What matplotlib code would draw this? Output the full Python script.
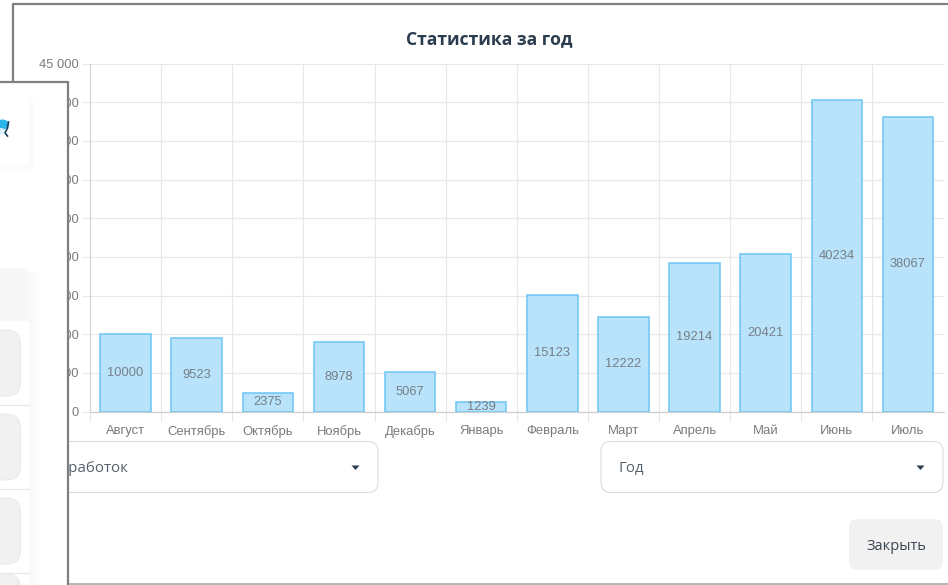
import matplotlib
matplotlib.use("Agg")
import matplotlib.pyplot as plt
from matplotlib.patches import Rectangle, FancyBboxPatch, Polygon, Ellipse
from matplotlib.ticker import FixedLocator, FixedFormatter, NullFormatter

months = ["Август", "Сентябрь", "Октябрь", "Ноябрь", "Декабрь", "Январь",
          "Февраль", "Март", "Апрель", "Май", "Июнь", "Июль"]
earnings = [10000, 9523, 2375, 8978, 5067, 1239, 15123, 12222, 19214, 20421, 40234, 38067]
y_ticks = [0, 5000, 10000, 15000, 20000, 25000, 30000, 35000, 40000, 45000]
y_labels = ["0", "5 000", "10 000", "15 000", "20 000", "25 000", "30 000", "35 000", "40 000", "45 000"]
title = "Статистика за год"
select_left = "Заработок"
select_right = "Год"
close_label = "Закрыть"

W, H = 948, 585
fig = plt.figure(figsize=(W / 100, H / 100), dpi=100, facecolor="white")
plt.rcParams["font.family"] = ["Liberation Sans", "DejaVu Sans"]

L, R, T, B = 90, 943.5, 63.5, 411.5
ax = fig.add_axes([L / W, 1 - B / H, (R - L) / W, (B - T) / H], zorder=2)
ax.set_facecolor("none")
xs = [i + 0.5 for i in range(len(months))]
ax.bar(xs, earnings, width=0.71, color="#b8e3fb", edgecolor="#6cc6f5", linewidth=1.1, zorder=3)
for x, v in zip(xs, earnings):
    ax.text(x, v / 2, str(v), ha="center", va="center", fontsize=9.3,
            color="#757f85", zorder=4, family="Liberation Sans")
ax.set_xlim(0, 12)
ax.set_ylim(0, 45000)
ax.xaxis.set_major_locator(FixedLocator(range(0, 12)))
ax.xaxis.set_major_formatter(NullFormatter())
ax.xaxis.set_minor_locator(FixedLocator(xs))
ax.xaxis.set_minor_formatter(FixedFormatter(months))
ax.set_yticks(y_ticks, y_labels)
ax.grid(True, which="major", color="#e8e8e8", linewidth=0.9, zorder=0)
ax.set_axisbelow(True)
ax.tick_params(axis="x", which="major", length=6.5, width=0.8, color="#e4e4e4")
ax.tick_params(axis="x", which="minor", length=0, pad=9.5, labelsize=9.4, labelcolor="#7b7b7b")
ax.tick_params(axis="y", which="major", length=5.5, width=0.8, color="#e9e9e9",
               pad=2.5, labelsize=9.3, labelcolor="#7b7b7b")
for s in ("top", "right"):
    ax.spines[s].set_visible(False)
ax.spines["left"].set_color("#d6d6d6")
ax.spines["bottom"].set_color("#cfcfcf")
ax.spines["left"].set_linewidth(0.9)
ax.spines["bottom"].set_linewidth(0.9)

# Page furniture in pixel coordinates
ui = fig.add_axes([0, 0, 1, 1], zorder=1)
ui.set_xlim(0, W)
ui.set_ylim(H, 0)
ui.axis("off")
ui.plot([13, 13, W], [82, 3.5, 3.5], color="#7f7f7f", lw=1.6, solid_capstyle="butt")
ui.plot([68, W], [584, 584], color="#a8a8a8", lw=1.2)

top = fig.add_axes([0, 0, 1, 1], zorder=3)
top.set_xlim(0, W)
top.set_ylim(H, 0)
top.axis("off")
top.patch.set_alpha(0)

top.text(489.5, 39, title, ha="center", va="center", fontsize=12.6, fontweight="bold",
         color="#2b3c4f", family="Open Sans")


def rounded(ax_, x0, y0, x1, y1, r, fc, ec, lw=1.0, z=2):
    p = FancyBboxPatch((x0 + r, y0 + r), x1 - x0 - 2 * r, y1 - y0 - 2 * r,
                       boxstyle=f"round,pad={r},rounding_size={r}",
                       fc=fc, ec=ec, lw=lw, zorder=z)
    ax_.add_patch(p)


rounded(top, 40, 441.5, 378, 492.5, 10, "white", "#dcdde0", 0.8)
rounded(top, 601, 441.5, 943, 492.5, 10, "white", "#dcdde0", 0.8)
rounded(top, 849, 519, 943, 570, 9, "#f1f1f1", "none", 0)
top.text(619, 468.5, select_right, ha="left", va="center", fontsize=10.8, color="#55606c", family="Open Sans")
top.text(51, 468.5, select_left, ha="left", va="center", fontsize=10.8, color="#55606c", family="Open Sans")
top.text(896, 546, close_label, ha="center", va="center", fontsize=10.5, color="#3b4652", family="Open Sans")
for cx in (355.5, 920.5):
    top.add_patch(Polygon([(cx - 4, 465.5), (cx + 4, 465.5), (cx, 470)], fc="#2b3c4f", ec="none", zorder=3))

# Overlapping window on the left
top.add_patch(Rectangle((0, 82), 68, H - 82, fc="white", ec="none", zorder=5))
top.plot([0, 68, 68], [81.5, 81.5, H], color="#7f7f7f", lw=1.6, zorder=9, solid_capstyle="butt")
# soft shadows
for i in range(1, 7):
    a = 0.005
    top.add_patch(Rectangle((0, 97), 29 + i * 0.9, 68 + i * 1.1, fc="black", alpha=a, ec="none", zorder=5.5))
    top.add_patch(Rectangle((0, 272), 29 + i * 2, H - 272, fc="black", alpha=a * .8, ec="none", zorder=5.5))
top.add_patch(Rectangle((0, 95), 29, 70, fc="white", ec="none", zorder=6))
rounded(top, -20, 268, 29, 610, 8, "white", "none", 0, 6)
rounded(top, -20, 268, 29, 340, 8, "#f7f7f8", "none", 0, 6)
top.add_patch(Rectangle((0, 321), 29, H - 321, fc="white", ec="none", zorder=6.1))
for y in (405, 489, 573):
    top.plot([0, 29], [y, y], color="#e8e8e8", lw=0.9, zorder=7)
for y0, y1 in ((330, 396), (414, 480), (498, 564)):
    rounded(top, -30, y0, 20.5, y1, 14, "#f1f1f1", "#ebebeb", 0.8, 7)
rounded(top, -30, 574, 20.5, 620, 14, "#f1f1f1", "#ebebeb", 0.8, 7)
# logo fragment
top.add_patch(Ellipse((2.5, 124.5), 13, 10, fc="#29b6e8", ec="none", zorder=7))
top.add_patch(Ellipse((1.5, 131), 6, 6, fc="#d5f0fa", ec="none", zorder=7))
top.plot([8.5, 7.5, 5, 7.5], [122, 128, 133, 136], color="#15425e", lw=1.2, zorder=8)

fig.savefig("out.png", dpi=100, facecolor="white")
